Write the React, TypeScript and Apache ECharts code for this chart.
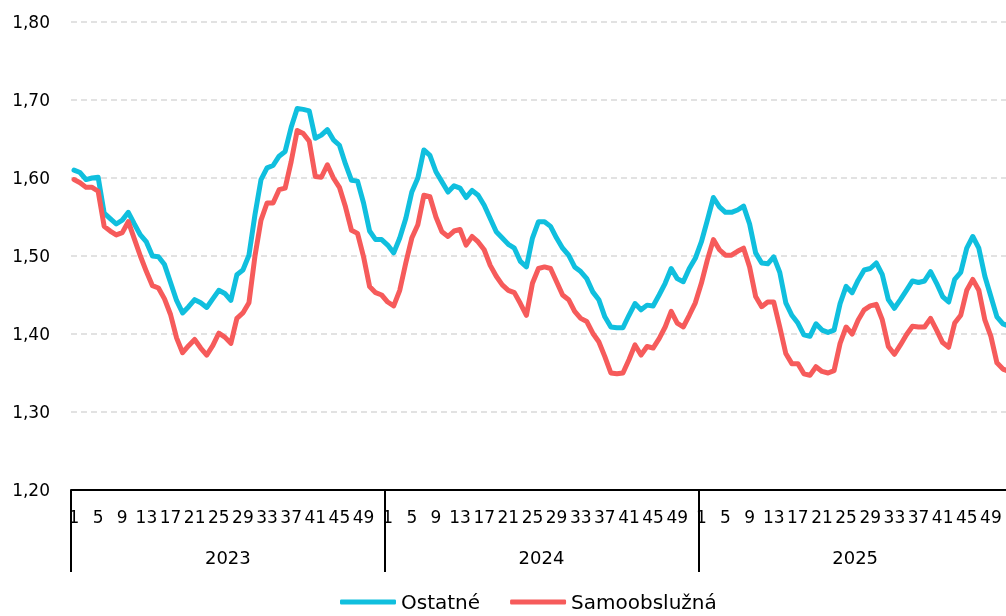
import React, { useEffect, useRef } from 'react';
import * as echarts from 'echarts';

const years = ['2023', '2024', '2025'];
const weeksPerYear = 52;
const yMin = 1.2;
const yMax = 1.8;
const yStep = 0.1;

const ostatne2023 = [
  1.610, 1.607, 1.598, 1.600, 1.601, 1.555, 1.548, 1.541, 1.546, 1.556,
  1.541, 1.527, 1.518, 1.500, 1.499, 1.489, 1.466, 1.443, 1.427, 1.435,
  1.444, 1.440, 1.434, 1.445, 1.456, 1.452, 1.443, 1.476, 1.482, 1.501,
  1.553, 1.598, 1.613, 1.616, 1.628, 1.634, 1.665, 1.689, 1.688, 1.686,
  1.651, 1.655, 1.662, 1.649, 1.642, 1.618, 1.597, 1.596, 1.568, 1.532,
  1.521, 1.521,
];
const ostatne2024 = [
  1.514, 1.504, 1.523, 1.548, 1.582, 1.600, 1.636, 1.629, 1.608, 1.595,
  1.582, 1.590, 1.587, 1.575, 1.584, 1.578, 1.565, 1.548, 1.531, 1.523,
  1.515, 1.510, 1.493, 1.486, 1.523, 1.544, 1.544, 1.538, 1.523, 1.510,
  1.501, 1.486, 1.480, 1.471, 1.454, 1.444, 1.422, 1.409, 1.408, 1.408,
  1.424, 1.439, 1.431, 1.437, 1.436, 1.450, 1.465, 1.484, 1.471, 1.467,
  1.484, 1.497,
];
const ostatne2025 = [
  1.518, 1.546, 1.575, 1.563, 1.556, 1.556, 1.559, 1.564, 1.541, 1.504,
  1.491, 1.490, 1.499, 1.479, 1.440, 1.424, 1.414, 1.399, 1.397, 1.413,
  1.405, 1.402, 1.405, 1.439, 1.461, 1.453, 1.469, 1.482, 1.484, 1.491,
  1.476, 1.444, 1.433, 1.444, 1.456, 1.468, 1.466, 1.468, 1.480, 1.465,
  1.448, 1.441, 1.470, 1.479, 1.510, 1.525, 1.510, 1.474, 1.448, 1.422,
  1.413, 1.410,
];

const samo2023 = [
  1.598, 1.594, 1.588, 1.588, 1.583, 1.538, 1.532, 1.527, 1.530, 1.544,
  1.522, 1.500, 1.480, 1.462, 1.459, 1.445, 1.425, 1.395, 1.376, 1.385,
  1.393, 1.382, 1.373, 1.385, 1.401, 1.396, 1.388, 1.420, 1.427, 1.440,
  1.500, 1.546, 1.568, 1.568, 1.585, 1.587, 1.621, 1.661, 1.657, 1.647,
  1.602, 1.601, 1.617, 1.600, 1.588, 1.563, 1.533, 1.529, 1.499, 1.461,
  1.453, 1.450,
];
const samo2024 = [
  1.441, 1.436, 1.456, 1.491, 1.523, 1.540, 1.578, 1.576, 1.550, 1.531,
  1.525, 1.532, 1.534, 1.514, 1.525, 1.518, 1.508, 1.488, 1.474, 1.463,
  1.456, 1.453, 1.439, 1.424, 1.465, 1.484, 1.486, 1.484, 1.467, 1.450,
  1.444, 1.429, 1.420, 1.416, 1.401, 1.390, 1.371, 1.350, 1.349, 1.350,
  1.367, 1.386, 1.373, 1.384, 1.382, 1.394, 1.409, 1.429, 1.414, 1.409,
  1.424, 1.440,
];
const samo2025 = [
  1.465, 1.495, 1.521, 1.508, 1.501, 1.501, 1.506, 1.510, 1.486, 1.448,
  1.435, 1.441, 1.441, 1.409, 1.375, 1.362, 1.362, 1.349, 1.347, 1.358,
  1.352, 1.350, 1.353, 1.388, 1.409, 1.400, 1.418, 1.431, 1.436, 1.438,
  1.418, 1.384, 1.374, 1.386, 1.399, 1.410, 1.409, 1.409, 1.420, 1.405,
  1.389, 1.383, 1.414, 1.424, 1.456, 1.470, 1.456, 1.418, 1.397, 1.363,
  1.355, 1.352,
];

const seriesNames = ['Ostatné', 'Samoobslužná'];
const seriesColors = ['#10bfde', '#f65b5b'];

export default function App() {
  const ref = useRef<HTMLDivElement>(null);

  useEffect(() => {
    if (!ref.current) return;
    const chart = echarts.init(ref.current, null, { renderer: 'svg' });

    const weekCats: string[] = [];
    years.forEach(() => {
      for (let w = 1; w <= weeksPerYear; w++) weekCats.push(String(w));
    });
    const yearCats: string[] = [];
    for (let i = 0; i <= years.length * weeksPerYear; i++) {
      yearCats.push(years[Math.min(Math.floor(i / weeksPerYear), years.length - 1)]);
    }

    const ostatne = [...ostatne2023, ...ostatne2024, ...ostatne2025];
    const samo = [...samo2023, ...samo2024, ...samo2025];

    const font = 'DejaVu Sans';

    chart.setOption({
      animation: false,
      textStyle: { fontFamily: font, color: '#000' },
      grid: { left: 71, right: -6, top: 22, bottom: 126, outerBoundsMode: 'none', containLabel: false },
      legend: {
        left: 335,
        top: 587,
        itemWidth: 56,
        itemHeight: 5,
        itemGap: 30,
        icon: 'roundRect',
        textStyle: { fontFamily: font, fontSize: 20, lineHeight: 20, color: '#000' },
        data: seriesNames,
      },
      xAxis: [
        {
          type: 'category',
          data: weekCats,
          boundaryGap: true,
          position: 'bottom',
          axisLine: { show: true, lineStyle: { color: '#000', width: 2 } },
          axisTick: { show: false },
          axisLabel: {
            interval: (i: number) => i % 4 === 0,
            margin: 18,
            fontSize: 17,
            color: '#000',
            fontFamily: font,
          },
          splitLine: { show: false },
        },
        {
          type: 'category',
          data: yearCats,
          boundaryGap: false,
          position: 'bottom',
          offset: 0,
          axisLine: { show: false },
          axisTick: {
            show: true,
            interval: (i: number) => i % weeksPerYear === 0,
            length: 82,
            lineStyle: { color: '#000', width: 2 },
          },
          axisLabel: {
            interval: (i: number) => i % weeksPerYear === weeksPerYear / 2,
            margin: 58,
            fontSize: 18,
            color: '#000',
            fontFamily: font,
          },
          splitLine: { show: false },
        },
      ],
      yAxis: {
        type: 'value',
        min: yMin,
        max: yMax,
        interval: yStep,
        axisLine: { show: false },
        axisTick: { show: false },
        axisLabel: {
          margin: 21,
          fontSize: 17,
          color: '#000',
          fontFamily: font,
          formatter: (v: number) => v.toFixed(2).replace('.', ','),
        },
        splitLine: { show: true, lineStyle: { color: '#d9d9d9', width: 1.5, type: [6, 4] } },
      },
      series: [
        {
          name: seriesNames[0],
          type: 'line',
          xAxisIndex: 0,
          data: ostatne,
          symbol: 'none',
          color: seriesColors[0],
          lineStyle: { width: 5, color: seriesColors[0], cap: 'round', join: 'round' },
        },
        {
          name: seriesNames[1],
          type: 'line',
          xAxisIndex: 0,
          data: samo,
          symbol: 'none',
          color: seriesColors[1],
          lineStyle: { width: 5, color: seriesColors[1], cap: 'round', join: 'round' },
        },
      ],
    });

    return () => chart.dispose();
  }, []);

  return (
    <div
      ref={ref}
      style={{ position: 'fixed', left: 0, top: 0, width: 1006, height: 616 }}
    />
  );
}
